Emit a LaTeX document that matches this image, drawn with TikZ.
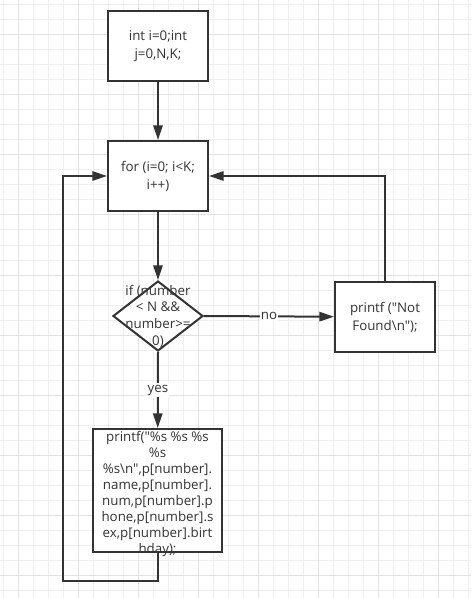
\documentclass[tikz,border=0pt]{standalone}
\usepackage{fontspec}
\setmainfont{Open Sans}[Ligatures=TeXOff]
\usepackage{tikz}
\usetikzlibrary{arrows.meta,backgrounds,shapes.geometric}
\definecolor{ink}{HTML}{333333}
\definecolor{gridminor}{HTML}{EFEFEF}
\definecolor{gridmajor}{HTML}{E2E2E2}

\begin{document}
\begin{tikzpicture}[x=0.75pt,y=-0.75pt,
  box/.style={draw=ink,line width=1.5pt,fill=white,minimum width=75pt,minimum height=52.5pt,
    align=center,text=ink,inner sep=0pt,font=\fontsize{10}{13.5}\selectfont},
  decision/.style={draw=ink,line width=1.5pt,fill=white,shape=diamond,inner sep=0pt,
    minimum width=67.5pt,minimum height=52.5pt},
  label/.style={text=ink,align=center,inner sep=0pt},
  arrow/.style={draw=ink,line width=1.5pt,-{Triangle[length=11pt,width=7pt]}},
  tag/.style={fill=white,text=ink,inner sep=1pt,font=\fontsize{10}{12}\selectfont}]
\useasboundingbox[fill=white] (0,0) rectangle (471,598);
\foreach \x in {3.3,18.3,...,471} \draw[gridminor,line width=0.75pt] (\x,0) -- (\x,598);
\foreach \y in {5,20,...,598} \draw[gridminor,line width=0.75pt] (0,\y) -- (471,\y);
\foreach \x in {18.3,78.3,...,471} \draw[gridmajor,line width=0.75pt] (\x,0) -- (\x,598);
\foreach \y in {35,95,...,598} \draw[gridmajor,line width=0.75pt] (0,\y) -- (471,\y);

\node[box] (init) at (158,46) {int i=0;int\\j=0,N,K;};
\node[box] (loop) at (158,176) {for (i=0; i<K;\\i++)};
\node[decision] (cond) at (158,316) {};
\node[label,font=\fontsize{10}{12.5}\selectfont] (condtext) at (cond) {if (number\\< N \&\&\\number>=\\0)};
\node[box] (notfound) at (385,317) {printf ("Not\\Found\textbackslash n");};
\node[box,minimum width=96.75pt,minimum height=92.25pt] (print) at (157.5,490.5) {};
\node[label,font=\fontsize{10}{12}\selectfont] (printtext) at (157.5,494)
  {printf("\%s \%s \%s\\\%s\\\%s\textbackslash n",p[number].\\name,p[number].\\num,p[number].p\\hone,p[number].s\\ex,p[number].birt\\hday);};
\coordinate (back) at (63,581);

\draw[arrow] (init) -- (loop);
\draw[arrow] (loop) -- (cond);
\draw[arrow] (cond.south) -- node[tag] (yes) {yes} (print);
\draw[arrow] (cond.east) -- node[tag] (no) {no} (notfound);
\draw[arrow] (notfound.north) |- (loop.east);
\draw[arrow] (print.south) |- (back) |- (loop.west);
\end{tikzpicture}
\end{document}
